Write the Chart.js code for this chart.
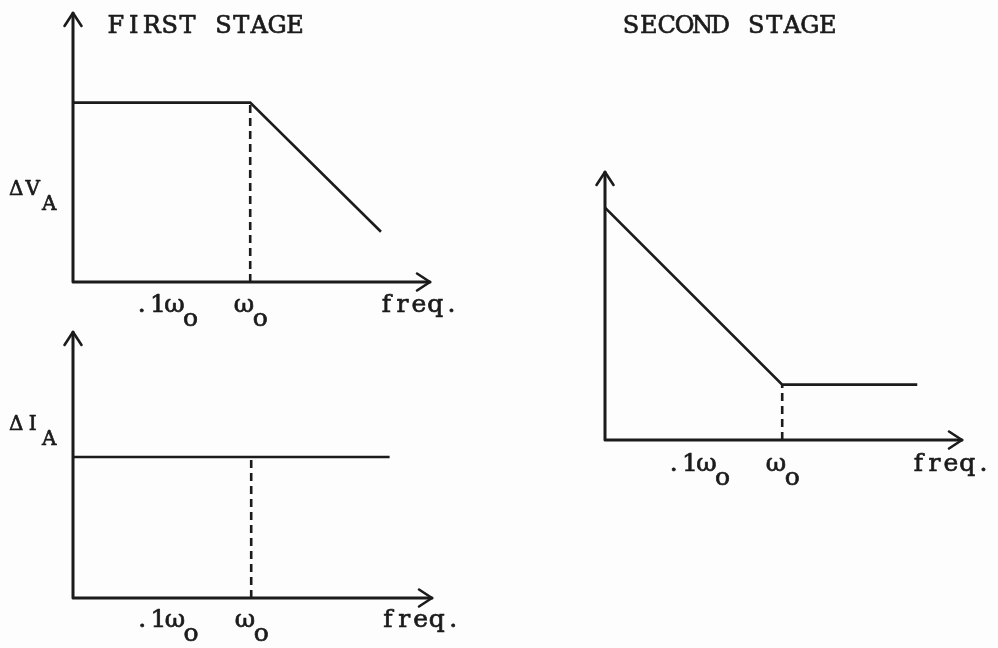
<!DOCTYPE html>
<html lang="en">
<head>
    <meta charset="UTF-8">
    <title>First and second stage response</title>
    <script src="https://cdn.jsdelivr.net/npm/chart.js"></script>
    <style>
        body {
            margin: 0;
            padding: 0;
            background-color: #fdfdfd;
            overflow: hidden;
        }

        #sheet {
            position: relative;
            width: 998px;
            height: 648px;
        }

        #sheet canvas {
            position: absolute;
            top: 0;
            left: 0;
        }
    </style>
</head>
<body>

    <div id="sheet">
        <canvas id="firstV" width="998" height="648"></canvas>
        <canvas id="firstI" width="998" height="648"></canvas>
        <canvas id="second" width="998" height="648"></canvas>
    </div>

    <script>
        // frequency in decades relative to w0, response in arbitrary units
        const X_RANGE = [-2.06, 2.09];
        const Y_RANGE = [0, 30];
        const TICK_VALUES = [-1, 0];
        const TICK_LABELS = ['.1ω', 'ω'];
        const TICK_SUB = 'o';
        const FREQ_LABEL = 'freq.';
        const FREQ_AT = 1.51;
        const CORNER_X = 0;

        const firstV_x = [-2.06, 0, 1.52];
        const firstV_y = [20, 20, 5.6];
        const firstI_x = [-2.06, 1.6];
        const firstI_y = [15.9, 15.9];
        const second_x = [-2.06, 0, 1.57];
        const second_y = [26, 6.2, 6.2];

        const INK = '#1b1b1b';
        const TYPE = '"DejaVu Serif", "Liberation Serif", serif';

        // typewriter style: every character in a fixed-width cell
        function typeText(ctx, text, x, y, size, cell) {
            ctx.font = size + 'px ' + TYPE;
            ctx.textAlign = 'center';
            ctx.textBaseline = 'alphabetic';
            ctx.fillStyle = INK;
            ctx.strokeStyle = INK;
            ctx.lineWidth = 0.7;
            Array.from(text).forEach((ch, i) => {
                const cx = x + i * cell + cell / 2;
                ctx.fillText(ch, cx, y);
                ctx.strokeText(ch, cx, y);
            });
            return Array.from(text).length * cell;
        }

        // axes with arrow heads, tick labels, axis names, titles
        const sketchPlugin = {
            id: 'sketch',
            afterDatasetsDraw(chart, args, opts) {
                const { ctx, scales: { x, y } } = chart;
                const left = x.getPixelForValue(X_RANGE[0]);
                const right = x.getPixelForValue(X_RANGE[1]);
                const bottom = y.getPixelForValue(Y_RANGE[0]);
                const top = y.getPixelForValue(Y_RANGE[1]);

                ctx.save();
                ctx.strokeStyle = INK;
                ctx.lineWidth = 3;
                ctx.lineCap = 'round';
                ctx.lineJoin = 'round';
                ctx.beginPath();
                ctx.moveTo(left, top);
                ctx.lineTo(left, bottom);
                ctx.lineTo(right, bottom);
                ctx.stroke();

                ctx.lineWidth = 2.6;
                ctx.beginPath();
                ctx.moveTo(left - 8.5, top + 13);
                ctx.lineTo(left, top);
                ctx.lineTo(left + 8.5, top + 13);
                ctx.moveTo(right - 13, bottom - 8.5);
                ctx.lineTo(right, bottom);
                ctx.lineTo(right - 13, bottom + 8.5);
                ctx.stroke();

                const cell = 16.3;
                const base = bottom + opts.tickGap;
                TICK_VALUES.forEach((v, i) => {
                    const n = Array.from(TICK_LABELS[i]).length + 1;
                    const sx = x.getPixelForValue(v) - n * cell / 2 + 2;
                    const w1 = typeText(ctx, TICK_LABELS[i], sx, base, 25, cell);
                    typeText(ctx, TICK_SUB, sx + w1, base + 14, 25, cell);
                });
                typeText(ctx, FREQ_LABEL, x.getPixelForValue(FREQ_AT) - 2, base, 25, cell);

                if (opts.name) {
                    const w1 = typeText(ctx, opts.name[0], 8, opts.nameY, 20, 16.5);
                    typeText(ctx, opts.name[1], 8 + w1, opts.nameY + 15, 20, 16.5);
                }
                if (opts.title) {
                    typeText(ctx, opts.title[0], opts.title[1], opts.title[2], 24, 17.9);
                }
                ctx.restore();
            }
        };

        function makePanel(id, xs, ys, padding, sketch) {
            const points = xs.map((v, i) => ({ x: v, y: ys[i] }));
            const k = xs.indexOf(CORNER_X);
            const cornerY = k >= 0 ? ys[k] : ys[0];
            return new Chart(document.getElementById(id), {
                type: 'line',
                data: {
                    datasets: [
                        { data: points, borderColor: INK, borderWidth: 2.6, pointRadius: 0, tension: 0, fill: false },
                        { data: [{ x: CORNER_X, y: Y_RANGE[0] }, { x: CORNER_X, y: cornerY }],
                          borderColor: INK, borderWidth: 2.6, borderDash: [8, 5], pointRadius: 0, fill: false }
                    ]
                },
                options: {
                    responsive: false,
                    animation: false,
                    layout: { padding: padding },
                    plugins: { legend: { display: false }, tooltip: { enabled: false }, sketch: sketch },
                    scales: {
                        x: { type: 'linear', display: false, min: X_RANGE[0], max: X_RANGE[1] },
                        y: { type: 'linear', display: false, min: Y_RANGE[0], max: Y_RANGE[1] }
                    }
                },
                plugins: [sketchPlugin]
            });
        }

        makePanel('firstV', firstV_x, firstV_y,
            { left: 73, right: 568, top: 13, bottom: 366 },
            { tickGap: 30, name: ['ΔV', 'A'], nameY: 195, title: ['FIRST STAGE', 107, 33] });

        makePanel('firstI', firstI_x, firstI_y,
            { left: 73, right: 566, top: 332, bottom: 50 },
            { tickGap: 29, name: ['ΔI', 'A'], nameY: 430 });

        makePanel('second', second_x, second_y,
            { left: 605, right: 36, top: 172, bottom: 208 },
            { tickGap: 31, title: ['SECOND STAGE', 622, 33] });
    </script>

</body>
</html>
